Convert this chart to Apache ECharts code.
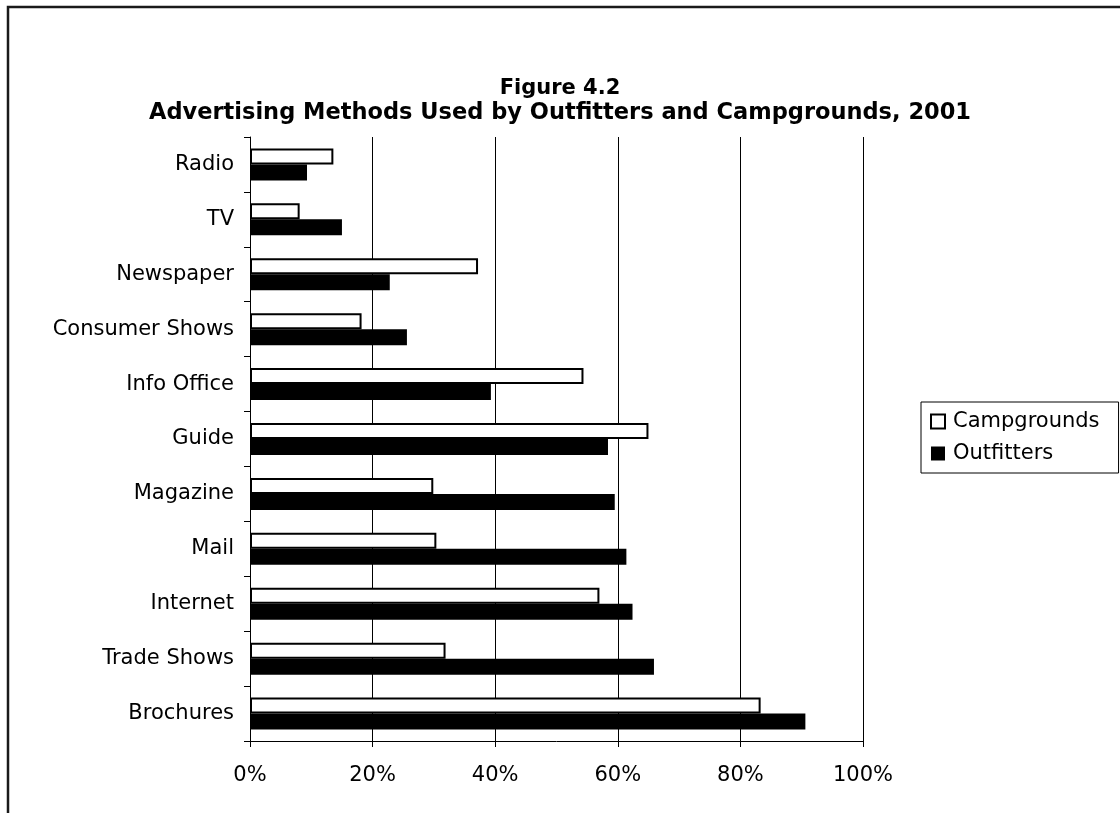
<!DOCTYPE html>
<html>
<head>
<meta charset="utf-8">
<style>
  html, body { margin: 0; padding: 0; background: #fff; }
  #chart { width: 1120px; height: 813px; }
</style>
<script src="https://cdn.jsdelivr.net/npm/echarts@6/dist/echarts.min.js"></script>
</head>
<body>
<div id="chart"></div>
<script>
// Advertising methods, listed top to bottom
const categories = ['Radio', 'TV', 'Newspaper', 'Consumer Shows', 'Info Office', 'Guide',
  'Magazine', 'Mail', 'Internet', 'Trade Shows', 'Brochures'];
// Share of businesses using each method (%)
const campgrounds = [13.6, 8.1, 37.2, 18.2, 54.4, 65.0, 29.9, 30.4, 57.0, 31.9, 83.3];
const outfitters  = [9.3, 15.0, 22.8, 25.6, 39.3, 58.4, 59.5, 61.4, 62.4, 65.9, 90.6];
const xTicks = [0, 20, 40, 60, 80, 100];

const FONT = 'DejaVu Sans';
const chart = echarts.init(document.getElementById('chart'), null, { renderer: 'canvas' });

chart.setOption({
  backgroundColor: '#fff',
  animation: false,
  textStyle: { fontFamily: FONT, color: '#000' },
  title: [
    { text: 'Figure 4.2', left: 'center', top: 73,
      textStyle: { fontFamily: FONT, fontWeight: 'bold', fontSize: 21, color: '#000' } },
    { text: 'Advertising Methods Used by Outfitters and Campgrounds, 2001', left: 'center', top: 97,
      textStyle: { fontFamily: FONT, fontWeight: 'bold', fontSize: 22.5, color: '#000' } }
  ],
  legend: {
    orient: 'vertical',
    left: 921, top: 402,
    padding: [9, 19, 9, 9],
    itemGap: 11,
    itemWidth: 14, itemHeight: 14,
    icon: 'rect',
    borderColor: '#000', borderWidth: 1,
    textStyle: { fontFamily: FONT, fontSize: 21, color: '#000', padding: [0, 0, 0, 3] },
    data: ['Campgrounds', 'Outfitters']
  },
  grid: { left: 250, right: 257, top: 137, bottom: 72, containLabel: false },
  xAxis: {
    type: 'value',
    min: xTicks[0], max: xTicks[xTicks.length - 1], interval: 20,
    axisLine: { show: true, lineStyle: { color: '#000', width: 1 } },
    axisTick: { show: true, length: 6, lineStyle: { color: '#000' } },
    axisLabel: { formatter: '{value}%', fontFamily: FONT, fontSize: 21, color: '#000', margin: 24 },
    splitLine: { show: true, lineStyle: { color: '#000', width: 1 } }
  },
  yAxis: {
    type: 'category',
    inverse: true,
    data: categories,
    axisLine: { show: true, lineStyle: { color: '#000', width: 1 } },
    axisTick: { show: true, length: 6, lineStyle: { color: '#000' } },
    axisLabel: { fontFamily: FONT, fontSize: 21, color: '#000', margin: 16 }
  },
  series: [
    {
      name: 'Campgrounds', type: 'bar', data: campgrounds,
      barWidth: 16, barGap: '0%',
      itemStyle: { color: '#fff', borderColor: '#000', borderWidth: 2 }
    },
    {
      name: 'Outfitters', type: 'bar', data: outfitters,
      barWidth: 16,
      itemStyle: { color: '#000' }
    }
  ],
  graphic: [
    // outer frame of the figure
    { type: 'rect', shape: { x: 8, y: 7, width: 1300, height: 1000 },
      style: { fill: 'none', stroke: '#1a1a1a', lineWidth: 2.5 }, z: 100 }
  ]
});
</script>
</body>
</html>
